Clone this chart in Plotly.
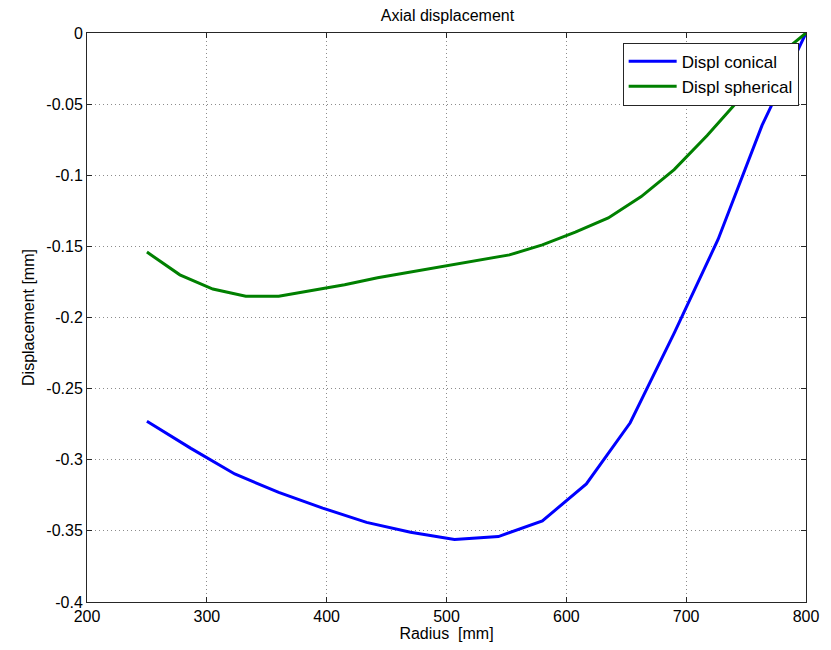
import plotly.graph_objects as go

radius_conical = [250, 286.7, 323.3, 360, 396.7, 433.3, 470, 506.7, 543.3, 580,
                  616.7, 653.3, 690, 726.7, 763.3, 800]
displ_conical = [-0.273, -0.292, -0.310, -0.323, -0.334, -0.344, -0.351, -0.356,
                 -0.354, -0.343, -0.317, -0.274, -0.211, -0.145, -0.065, 0.0]

radius_spherical = [250, 277.5, 305, 332.5, 360, 387.5, 415, 442.5, 470, 497.5, 525,
                    552.5, 580, 607.5, 635, 662.5, 690, 717.5, 745, 772.5, 800]
displ_spherical = [-0.154, -0.170, -0.180, -0.185, -0.185, -0.181, -0.177, -0.172,
                   -0.168, -0.164, -0.160, -0.156, -0.149, -0.140, -0.130, -0.115,
                   -0.096, -0.072, -0.046, -0.019, 0.0]

x_ticks = [200, 300, 400, 500, 600, 700, 800]
y_ticks = [0, -0.05, -0.1, -0.15, -0.2, -0.25, -0.3, -0.35, -0.4]
y_ticktext = ["0", "-0.05", "-0.1", "-0.15", "-0.2", "-0.25", "-0.3", "-0.35", "-0.4"]

FONT = "Liberation Sans, Arial, sans-serif"

fig = go.Figure()
fig.add_trace(go.Scatter(x=radius_conical, y=displ_conical, mode="lines",
                         name="Displ conical", line=dict(color="#0000FF", width=3)))
fig.add_trace(go.Scatter(x=radius_spherical, y=displ_spherical, mode="lines",
                         name="Displ spherical", line=dict(color="#008000", width=3)))

axis_common = dict(
    showgrid=True, gridcolor="#8c8c8c", griddash="1px,3px", gridwidth=1,
    showline=True, linecolor="#262626", linewidth=1, mirror="ticks",
    ticks="inside", ticklen=5, tickcolor="#262626",
    zeroline=False, tickfont=dict(family=FONT, size=16, color="black"),
)

fig.update_layout(
    width=831, height=650,
    margin=dict(l=87, r=23, t=33, b=47),
    paper_bgcolor="white", plot_bgcolor="white",
    font=dict(family=FONT, size=16, color="black"),
    title=dict(text="Axial displacement", x=0.5385, xanchor="center",
               y=1 - 15 / 650, yanchor="middle",
               font=dict(family=FONT, size=16, color="black")),
    xaxis=dict(range=[200, 800], tickvals=x_ticks,
               title=dict(text="Radius\u00a0\u00a0[mm]", standoff=2,
                          font=dict(family=FONT, size=16)),
               **axis_common),
    yaxis=dict(range=[-0.4, 0], tickvals=y_ticks, ticktext=y_ticktext,
               title=dict(text="Displacement [mm]", standoff=7,
                          font=dict(family=FONT, size=16)),
               **axis_common),
    legend=dict(x=0.745, y=0.983, xanchor="left", yanchor="top",
                bgcolor="white", bordercolor="#262626", borderwidth=1,
                font=dict(family=FONT, size=17, color="black"),
                tracegroupgap=0, itemwidth=48),
    showlegend=True,
)

fig.write_html("out.html")
